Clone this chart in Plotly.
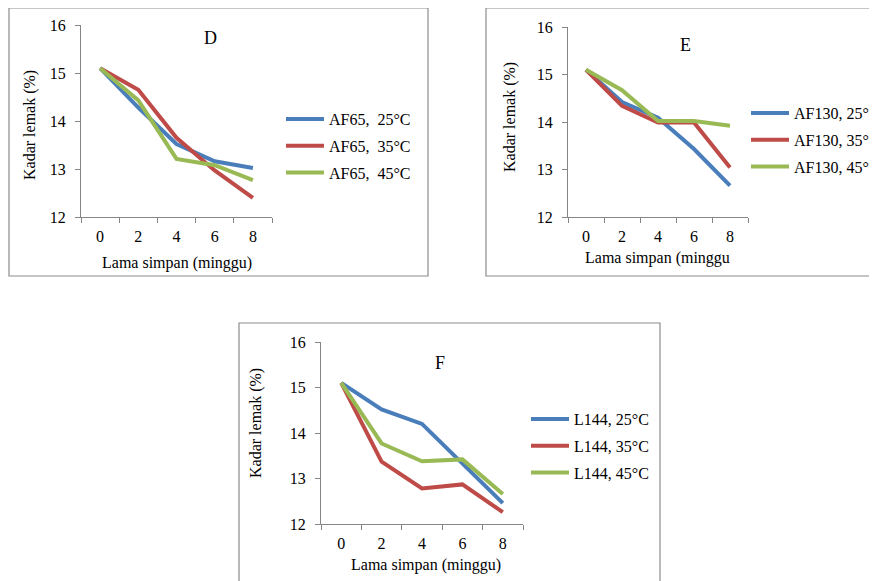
import plotly.graph_objects as go

weeks = ["0", "2", "4", "6", "8"]

# Panel D (AF65)
d_25 = [15.10, 14.28, 13.52, 13.16, 13.02]
d_35 = [15.10, 14.65, 13.65, 12.97, 12.40]
d_45 = [15.10, 14.43, 13.21, 13.08, 12.77]
# Panel E (AF130)
e_25 = [15.10, 14.42, 14.09, 13.43, 12.66]
e_35 = [15.10, 14.34, 13.99, 13.99, 13.04]
e_45 = [15.10, 14.67, 14.02, 14.02, 13.92]
# Panel F (L144)
f_25 = [15.10, 14.52, 14.20, 13.33, 12.46]
f_35 = [15.10, 13.37, 12.78, 12.87, 12.26]
f_45 = [15.10, 13.77, 13.38, 13.42, 12.66]

panels = [
    ("D", "AF65,  ", [d_25, d_35, d_45], "Lama simpan (minggu)"),
    ("E", "AF130, ", [e_25, e_35, e_45], "Lama simpan (minggu"),
    ("F", "L144, ", [f_25, f_35, f_45], "Lama simpan (minggu)"),
]
temps = ["25°C", "35°C", "45°C"]
colors = ["#4A7EBB", "#BE4B48", "#98B954"]

W, H = 877, 581
FONT = "Liberation Serif"
OFF = 8  # page body margin compensation

def px(x):
    return (x - OFF) / W

def py(y):
    return 1 - (y - OFF) / H

# plot areas in pixels: (x0, x1, ytop, ybottom)
areas = [(81, 272, 25, 217), (568, 748, 27, 217), (321, 523, 342, 524)]
legend_pos = [(281, 102), (746, 96), (526, 402)]
boxes = [(9, 428, 8, 276), (486, 900, 8, 276), (239, 660, 323, 600)]
title_pos = [(210, 38), (685, 45), (440, 363)]
xtitle_pos = [(177, 263), (657, 258), (426, 565)]
ytitle_pos = [(30, 125), (510, 117), (256, 423)]

fig = go.Figure()
shapes = []
annotations = []
layout_extra = {}

for i, (letter, prefix, series, xtitle) in enumerate(panels):
    n = "" if i == 0 else str(i + 1)
    lg = "legend" if i == 0 else "legend" + str(i + 1)
    for s, vals in enumerate(series):
        fig.add_trace(go.Scatter(
            x=weeks, y=vals, mode="lines",
            line=dict(color=colors[s], width=4),
            name=prefix + temps[s],
            xaxis="x" + n, yaxis="y" + n,
            legend=lg, legendgroup=lg + str(s),
        ))
    x0, x1, yt, yb = areas[i]
    axis_common = dict(
        showgrid=False, zeroline=False, showline=True,
        linecolor="#868686", linewidth=1.3,
        ticks="outside", ticklen=5, tickcolor="#868686", tickwidth=1.3,
        tickfont=dict(family=FONT, size=16, color="black"),
        automargin=False,
    )
    layout_extra["xaxis" + n] = dict(
        axis_common, domain=[px(x0), px(x1)], anchor="y" + n,
        type="category", tickson="boundaries", range=[-0.5, 4.5],
        ticklabelstandoff=5,
    )
    layout_extra["yaxis" + n] = dict(
        axis_common, domain=[py(yb), py(yt)], anchor="x" + n,
        range=[12, 16], tickvals=[12, 13, 14, 15, 16], ticklabelstandoff=6,
    )
    lx, ly = legend_pos[i]
    layout_extra[lg] = dict(
        x=px(lx), y=py(ly), xanchor="left", yanchor="top",
        bgcolor="rgba(0,0,0,0)", borderwidth=0, tracegroupgap=3,
        itemwidth=38,
        font=dict(family=FONT, size=16, color="black"),
    )
    bx0, bx1, by0, by1 = boxes[i]
    shapes.append(dict(type="rect", xref="paper", yref="paper",
                       x0=px(bx0), x1=px(bx1), y0=py(by1), y1=py(by0),
                       line=dict(color="#8c8c8c", width=1.2)))
    tx, ty = title_pos[i]
    annotations.append(dict(text=letter, x=px(tx), y=py(ty), xref="paper", yref="paper",
                            xanchor="center", yanchor="middle",
                            showarrow=False, font=dict(family=FONT, size=18, color="black")))
    ax_, ay_ = xtitle_pos[i]
    annotations.append(dict(text=xtitle, x=px(ax_), y=py(ay_), xref="paper", yref="paper",
                            xanchor="center", yanchor="middle",
                            showarrow=False, font=dict(family=FONT, size=16, color="black")))
    yx, yy = ytitle_pos[i]
    annotations.append(dict(text="Kadar lemak (%)", x=px(yx), y=py(yy), xref="paper", yref="paper",
                            xanchor="center", yanchor="middle",
                            showarrow=False, textangle=-90,
                            font=dict(family=FONT, size=16, color="black")))

fig.update_layout(
    width=W, height=H,
    margin=dict(l=0, r=0, t=0, b=0, autoexpand=False),
    paper_bgcolor="white", plot_bgcolor="white",
    showlegend=True,
    shapes=shapes, annotations=annotations,
    **layout_extra,
)

fig.write_html("out.html")
